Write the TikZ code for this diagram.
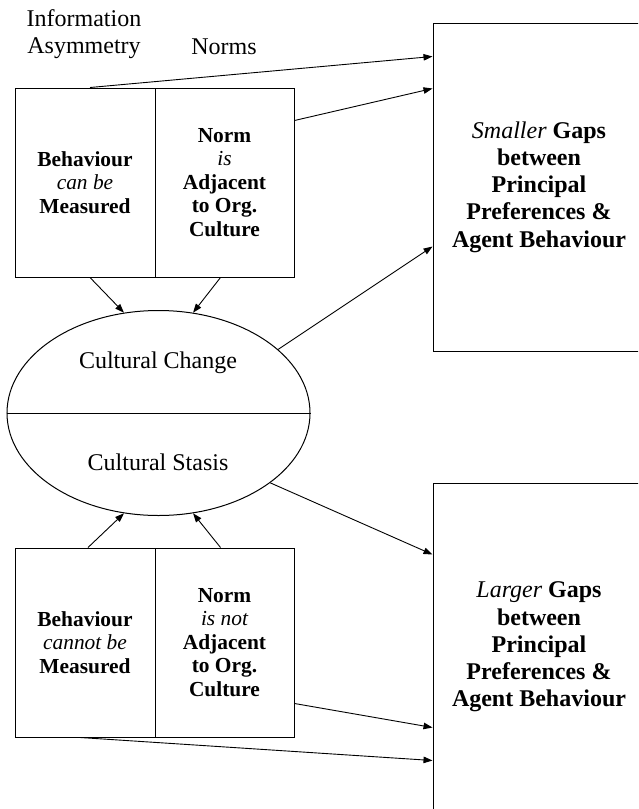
\documentclass[tikz,border=0pt]{standalone}
\usepackage{fontspec}
\setmainfont{Liberation Serif}[BoldFont={Liberation Serif Bold}, ItalicFont={Liberation Serif Italic}, BoldItalicFont={Liberation Serif Bold Italic}]
\usetikzlibrary{shapes.geometric,arrows.meta,calc}
\begin{document}
\begin{tikzpicture}[x=1pt,y=-1pt,
  box/.style={draw, line width=1pt, minimum height=189pt, inner sep=0pt, align=center,
    font=\fontsize{21.4}{23.5}\selectfont\bfseries},
  gapbox/.style={draw, line width=1pt, minimum width=212pt, minimum height=328pt, inner sep=0pt, align=center,
    font=\fontsize{24}{27.3}\selectfont\bfseries},
  lbl/.style={align=center, inner sep=0pt, font=\fontsize{24}{27}\selectfont},
  arr/.style={-{Triangle[length=9pt,width=6.5pt]}, line width=0.9pt}]
\useasboundingbox (0,0) rectangle (638,809);
\clip (0,0) rectangle (638,809);

% header labels
\node[lbl] (ia) at (84,34) {Information\\Asymmetry};
\node[lbl] (nm) at (224,47) {Norms};

% top boxes
\node[box, minimum width=140pt] (tlb) at (85,182.5) {Behaviour\\{\mdseries\itshape can be}\\Measured};
\node[box, minimum width=139pt] (trb) at (224.5,182.5) {Norm\\{\mdseries\itshape is}\\Adjacent\\to Org.\\Culture};

% bottom boxes
\node[box, minimum width=140pt] (blb) at (85,642.5) {Behaviour\\{\mdseries\itshape cannot be}\\Measured};
\node[box, minimum width=139pt] (brb) at (224.5,642.5) {Norm\\{\mdseries\itshape is not}\\Adjacent\\to Org.\\Culture};

% ellipse
\node[draw, ellipse, line width=1pt, minimum width=303pt, minimum height=205pt, inner sep=0pt] (ell) at (158.5,413) {};
\draw[line width=1pt] (ell.west) -- (ell.east);
\node[lbl] (cc) at (158,363) {Cultural Change};
\node[lbl] (cs) at (158,462) {Cultural Stasis};

% outcome boxes
\node[gapbox] (gs) at (539,187) {{\mdseries\itshape Smaller} Gaps\\between\\Principal\\Preferences \&\\Agent Behaviour};
\node[gapbox] (gl) at (539,647) {{\mdseries\itshape Larger} Gaps\\between\\Principal\\Preferences \&\\Agent Behaviour};

% arrows to top outcome
\draw[arr] ($(tlb.north)+(5,0)$) -- ($(gs.north west)+(0,34)$);
\draw[arr] ($(trb.north east)+(0,33)$) -- ($(gs.north west)+(0,66)$);
\draw[arr] (ell.28) -- ($(gs.north west)+(0,224)$);

% arrows into ellipse
\draw[arr] ($(tlb.south)+(5,0)$) -- (ell.109);
\draw[arr] ($(trb.south)+(-4,0)$) -- (ell.71);
\draw[arr] ($(blb.north)+(3,0)$) -- (ell.251);
\draw[arr] ($(brb.north)+(-4,0)$) -- (ell.289);

% arrows to bottom outcome
\draw[arr] (ell.-32) -- ($(gl.north west)+(0,72)$);
\draw[arr] ($(brb.south east)+(0,-34)$) -- ($(gl.north west)+(0,245)$);
\draw[arr] ($(blb.south)+(-5,0)$) -- ($(gl.north west)+(0,278)$);
\end{tikzpicture}
\end{document}
